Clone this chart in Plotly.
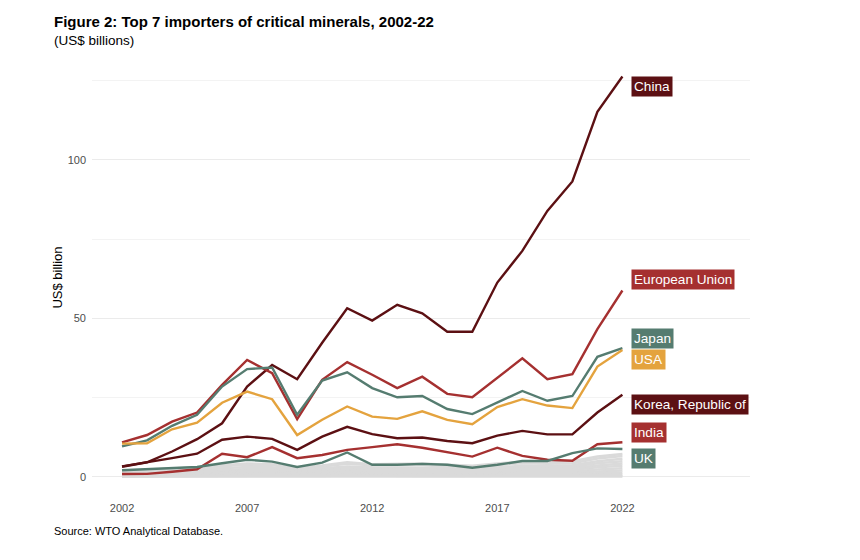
import plotly.graph_objects as go

# years on the x axis
years = list(range(2002, 2023))

# top 7 importers, US$ billions
china = [3.2, 4.6, 8.0, 11.9, 16.9, 28.5, 35.3, 30.8, 42.3, 53.2, 49.3, 54.3, 51.6, 45.8, 45.8, 61.3, 71.3, 83.9, 93.2, 115.2, 126.3]
eu = [10.9, 13.2, 17.4, 20.3, 29.0, 36.9, 32.7, 18.2, 30.6, 36.2, 32.2, 28.0, 31.6, 26.2, 25.1, 31.3, 37.4, 30.8, 32.4, 46.6, 58.8]
japan = [9.6, 11.5, 16.1, 19.6, 28.5, 34.0, 34.5, 19.6, 30.4, 33.0, 28.0, 25.1, 25.5, 21.4, 19.8, 23.4, 27.1, 24.0, 25.5, 37.9, 40.6]
usa = [10.5, 10.6, 15.0, 17.1, 23.4, 26.9, 24.5, 13.2, 18.0, 22.2, 19.0, 18.3, 20.7, 18.0, 16.6, 22.0, 24.5, 22.5, 21.7, 34.8, 40.0]
korea = [3.3, 4.5, 5.9, 7.3, 11.7, 12.7, 12.0, 8.5, 12.7, 15.8, 13.5, 12.2, 12.4, 11.3, 10.6, 13.0, 14.5, 13.4, 13.4, 20.3, 25.9]
india = [0.9, 0.95, 1.6, 2.4, 7.3, 6.2, 9.4, 5.9, 6.9, 8.5, 9.4, 10.3, 9.2, 7.8, 6.4, 9.2, 6.6, 5.4, 5.1, 10.3, 10.9]
uk = [2.1, 2.5, 2.9, 3.1, 4.3, 5.4, 4.8, 3.1, 4.5, 7.7, 3.8, 3.8, 4.1, 3.8, 2.9, 3.8, 5.0, 5.0, 7.5, 9.0, 8.8]

# other importers, drawn in grey behind
other1 = [2.0, 2.2, 2.6, 3.0, 3.6, 4.2, 4.0, 2.8, 3.6, 4.6, 4.0, 4.0, 4.2, 3.8, 3.5, 4.2, 4.8, 4.6, 4.9, 6.4, 7.2]
other2 = [1.7, 1.9, 2.3, 2.7, 3.3, 3.9, 3.7, 2.5, 3.3, 4.1, 3.7, 3.6, 3.7, 3.3, 3.1, 3.7, 4.3, 4.1, 4.3, 5.8, 6.6]
other3 = [1.3, 1.5, 1.8, 2.1, 2.7, 3.1, 3.0, 2.1, 2.7, 3.3, 3.0, 2.9, 3.0, 2.7, 2.5, 3.0, 3.5, 3.4, 3.7, 4.9, 5.7]
other4 = [1.1, 1.2, 1.4, 1.7, 2.1, 2.5, 2.5, 1.8, 2.3, 2.8, 2.6, 2.5, 2.6, 2.4, 2.2, 2.6, 3.0, 3.0, 3.2, 4.3, 4.9]
other5 = [0.9, 1.0, 1.2, 1.4, 1.8, 2.1, 2.1, 1.5, 1.9, 2.4, 2.2, 2.1, 2.2, 2.0, 1.9, 2.2, 2.6, 2.5, 2.7, 3.6, 4.2]
other6 = [0.7, 0.8, 0.9, 1.1, 1.4, 1.7, 1.7, 1.2, 1.6, 2.0, 1.8, 1.8, 1.8, 1.7, 1.6, 1.8, 2.1, 2.1, 2.2, 3.0, 3.5]
other7 = [0.5, 0.6, 0.7, 0.8, 1.1, 1.3, 1.3, 0.9, 1.2, 1.5, 1.4, 1.4, 1.4, 1.3, 1.2, 1.4, 1.6, 1.6, 1.7, 2.3, 2.7]
other8 = [0.4, 0.4, 0.5, 0.6, 0.8, 1.0, 1.0, 0.7, 0.9, 1.1, 1.0, 1.0, 1.0, 1.0, 0.9, 1.0, 1.2, 1.2, 1.3, 1.7, 2.0]
other9 = [0.2, 0.3, 0.3, 0.4, 0.5, 0.6, 0.6, 0.4, 0.6, 0.7, 0.6, 0.6, 0.6, 0.6, 0.6, 0.6, 0.8, 0.8, 0.8, 1.1, 1.3]
other10 = [0.1, 0.1, 0.2, 0.2, 0.3, 0.3, 0.3, 0.2, 0.3, 0.4, 0.3, 0.3, 0.3, 0.3, 0.3, 0.3, 0.4, 0.4, 0.4, 0.6, 0.7]

names = ["China", "European Union", "Japan", "USA", "Korea, Republic of", "India", "UK"]
series = [china, eu, japan, usa, korea, india, uk]
colors = ["#5c1013", "#a53030", "#557c70", "#e4a33e", "#5c1013", "#a53030", "#557c70"]
# nudge labels up/down (px) so they don't overlap
label_shift = [-10, 11, 10, -9, -10, 10, -10]

others = [other1, other2, other3, other4, other5, other6, other7, other8, other9, other10]

fnt = "Liberation Sans, Arial, sans-serif"

fig = go.Figure()

for o in others:
    fig.add_trace(go.Scatter(x=years, y=o, mode="lines",
                             line=dict(color="#dadada", width=2.5),
                             hoverinfo="skip", showlegend=False))
fig.add_trace(go.Scatter(x=years, y=[0] * len(years), fill="tonexty", mode="lines",
                         line=dict(color="#dadada", width=2), fillcolor="#dadada",
                         hoverinfo="skip", showlegend=False))

for nm, vals, col in zip(names, series, colors):
    fig.add_trace(go.Scatter(x=years, y=vals, mode="lines", name=nm,
                             line=dict(color=col, width=2.4), showlegend=False))

for nm, vals, col, sh in zip(names, series, colors, label_shift):
    fig.add_annotation(x=2022.35, y=vals[-1], text=nm, xanchor="left", yanchor="middle",
                       showarrow=False, yshift=sh, bgcolor=col, borderpad=2,
                       font=dict(family=fnt, size=13.6, color="white"))

fig.add_annotation(text="<b>Figure 2: Top 7 importers of critical minerals, 2002-22</b>",
                   xref="paper", yref="paper", x=0, y=1, xanchor="left", yanchor="bottom",
                   xshift=-40, yshift=36, showarrow=False,
                   font=dict(family=fnt, size=15, color="black"))
fig.add_annotation(text="(US$ billions)", xref="paper", yref="paper", x=0, y=1,
                   xanchor="left", yanchor="bottom", xshift=-40, yshift=18, showarrow=False,
                   font=dict(family=fnt, size=13.5, color="black"))
fig.add_annotation(text="Source: WTO Analytical Database.", xref="paper", yref="paper",
                   x=0, y=0, xanchor="left", yanchor="top", xshift=-40, yshift=-36,
                   showarrow=False, font=dict(family=fnt, size=11, color="black"))

fig.update_layout(
    width=860, height=560,
    margin=dict(l=84, r=118, t=60, b=81),
    paper_bgcolor="white", plot_bgcolor="white",
    font=dict(family=fnt),
)
fig.update_xaxes(range=[2000.8, 2027.1], tickvals=[2002, 2007, 2012, 2017, 2022],
                 showgrid=False, zeroline=False, ticks="", ticklabelstandoff=13,
                 tickfont=dict(size=11, color="#4d4d4d"))
fig.update_yaxes(range=[-3.2, 129], tickvals=[0, 50, 100], showgrid=True,
                 gridcolor="#ebebeb", gridwidth=1, zeroline=False, ticks="",
                 ticklabelstandoff=5,
                 minor=dict(tickvals=[25, 75, 125], showgrid=True, gridcolor="#f3f3f3", gridwidth=1),
                 title=dict(text="US$ billion", standoff=2, font=dict(size=13, color="black")),
                 tickfont=dict(size=11, color="#4d4d4d"))

fig.write_html("out.html")
